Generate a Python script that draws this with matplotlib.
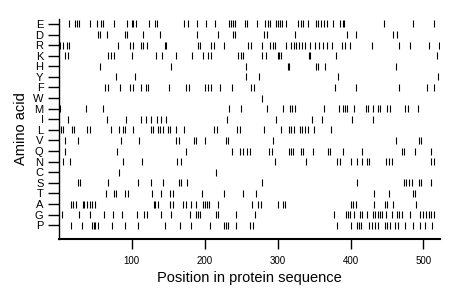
import matplotlib
matplotlib.use('Agg')
import matplotlib.pyplot as plt

plt.rcParams['font.family'] = ['Liberation Sans', 'DejaVu Sans']

# rows from top to bottom
amino_acids = ['E', 'D', 'R', 'K', 'H', 'Y', 'F', 'W', 'M', 'I',
               'L', 'V', 'Q', 'N', 'C', 'S', 'T', 'A', 'G', 'P']

pos_E = [14, 22, 25, 28, 42, 52, 58, 60, 75, 94, 100, 102, 106, 124, 132, 135,
         172, 177, 190, 202, 214, 233, 236, 239, 242, 255, 258, 272, 283, 287,
         290, 298, 301, 303, 306, 312, 328, 332, 335, 342, 353, 356, 360, 364,
         368, 376, 385, 389, 391, 446, 486, 514]
pos_D = [54, 57, 66, 90, 94, 116, 138, 190, 218, 239, 241, 282, 286, 324, 395,
         407, 458, 464]
pos_R = [2, 5, 11, 14, 81, 98, 101, 113, 116, 121, 145, 147, 191, 194, 208, 213,
         227, 259, 263, 278, 290, 293, 296, 311, 319, 322, 325, 329, 333, 337,
         345, 351, 357, 362, 368, 374, 388, 392, 399, 430, 466, 481, 507, 521]
pos_K = [8, 12, 68, 71, 75, 100, 133, 142, 160, 183, 198, 205, 208, 246, 250,
         253, 279, 284, 300, 302, 304, 343, 345, 380, 519]
pos_H = [56, 154, 256, 314, 316, 352, 356, 365, 463]
pos_Y = [78, 105, 256, 274, 383, 520]
pos_F = [63, 67, 84, 98, 101, 112, 119, 122, 151, 175, 178, 200, 204, 208, 221,
         238, 264, 268, 379, 407, 467, 505, 514]
pos_W = [278]
pos_M = [1, 37, 60, 234, 250, 285, 308, 317, 320, 324, 364, 384, 389, 392, 395,
         405, 421, 424, 431, 437, 441, 450, 454, 475, 479, 493]
pos_I = [12, 66, 92, 113, 120, 127, 134, 140, 147, 230, 298, 347, 361, 402, 431]
pos_L = [3, 6, 18, 21, 39, 42, 72, 83, 88, 91, 101, 126, 129, 136, 139, 143,
         149, 153, 161, 172, 213, 217, 244, 248, 282, 304, 315, 318, 323, 331,
         334, 337, 342, 350, 373]
pos_V = [9, 26, 85, 110, 160, 165, 185, 188, 200, 229, 232, 293, 462, 494, 497]
pos_Q = [8, 80, 175, 237, 249, 253, 258, 262, 288, 292, 315, 318, 321, 332, 335,
         348, 369, 372, 390, 416, 470, 473, 489, 511]
pos_N = [5, 15, 88, 114, 162, 168, 297, 339, 382, 385, 401, 409, 416, 423, 426,
         448, 453, 457, 511, 514]
pos_C = [83, 215]
pos_S = [26, 29, 68, 108, 126, 143, 165, 168, 176, 278, 409, 473, 476, 480, 484,
         494, 497, 510]
pos_T = [64, 76, 79, 91, 95, 128, 140, 152, 156, 196, 226, 252, 270, 432, 453,
         486, 488]
pos_A = [17, 20, 24, 33, 35, 38, 42, 46, 49, 130, 132, 136, 153, 156, 170, 174,
         181, 188, 197, 200, 203, 206, 218, 265, 273, 277, 300, 308, 310, 400,
         403, 407, 432, 447, 450, 458, 490]
pos_G = [4, 27, 42, 62, 74, 87, 107, 117, 121, 140, 154, 180, 188, 191, 194, 215,
         218, 243, 269, 377, 394, 397, 399, 405, 413, 416, 423, 431, 434, 437,
         440, 443, 449, 457, 464, 467, 471, 481, 495, 499, 503, 507, 511, 515]
pos_P = [17, 32, 46, 48, 50, 53, 73, 91, 108, 146, 166, 181, 207, 226, 229, 232,
         243, 262, 266, 382, 401, 409, 412, 415, 426, 430, 433, 438, 447, 450,
         454, 461, 465, 475, 485, 495, 502, 512]

positions = [pos_E, pos_D, pos_R, pos_K, pos_H, pos_Y, pos_F, pos_W, pos_M, pos_I,
             pos_L, pos_V, pos_Q, pos_N, pos_C, pos_S, pos_T, pos_A, pos_G, pos_P]
x_ticks = [100, 200, 300, 400, 500]

fig = plt.figure(figsize=(4.6, 2.99), dpi=100)
ax = fig.add_axes([0.128, 0.2007, 0.829, 0.737])

n = len(amino_acids)
for i, pos in enumerate(positions):
    y = n - 1 - i
    ax.vlines(pos, y - 0.33, y + 0.33, color='black', linewidth=0.8)

ax.set_xlim(0, 523)
ax.set_ylim(-1.3, n - 0.5)
ax.set_xticks(x_ticks)
ax.set_yticks(range(n))
ax.set_yticklabels(amino_acids[::-1])

ax.spines['top'].set_visible(False)
ax.spines['right'].set_visible(False)
ax.spines['left'].set_linewidth(1.0)
ax.spines['bottom'].set_linewidth(1.5)

ax.tick_params(axis='x', length=7, width=1, labelsize=7, pad=5)
ax.tick_params(axis='y', length=8, width=1, labelsize=8, pad=3)

ax.set_xlabel('Position in protein sequence', fontsize=10.5, labelpad=4)
ax.set_ylabel('Amino acid', fontsize=10.5, labelpad=4)

fig.savefig('out.png', dpi=100)
